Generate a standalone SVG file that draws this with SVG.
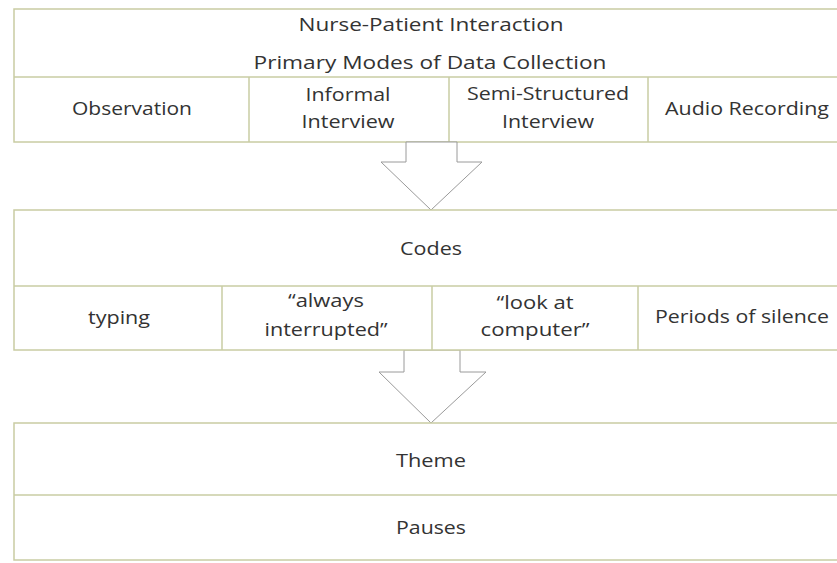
<svg xmlns="http://www.w3.org/2000/svg" width="837" height="563" viewBox="0 0 837 563">
<style>
.box{fill:#ffffff;stroke:#c9cca3;stroke-width:1.5}
.ln{stroke:#c9cca3;stroke-width:1.5}
.arr{fill:#ffffff;stroke:#9a9a9a;stroke-width:1}
text{font-family:"Open Sans","Liberation Sans",sans-serif;font-size:18px;fill:#333333;text-anchor:middle}
</style>
<rect width="837" height="563" fill="#ffffff"/>
<g id="modes">
<rect class="box" x="14" y="9" width="840" height="133"/>
<line class="ln" x1="14" y1="77" x2="854" y2="77"/>
<line class="ln" x1="249" y1="77" x2="249" y2="142"/>
<line class="ln" x1="449" y1="77" x2="449" y2="142"/>
<line class="ln" x1="648" y1="77" x2="648" y2="142"/>
<text x="431" y="31" textLength="265" lengthAdjust="spacingAndGlyphs">Nurse-Patient Interaction</text>
<text x="430" y="69" textLength="353" lengthAdjust="spacingAndGlyphs">Primary Modes of Data Collection</text>
<text x="132" y="115" textLength="120" lengthAdjust="spacingAndGlyphs">Observation</text>
<text x="348" y="101" textLength="85" lengthAdjust="spacingAndGlyphs">Informal</text>
<text x="348" y="128" textLength="93" lengthAdjust="spacingAndGlyphs">Interview</text>
<text x="548" y="100" textLength="162" lengthAdjust="spacingAndGlyphs">Semi-Structured</text>
<text x="548" y="128" textLength="92" lengthAdjust="spacingAndGlyphs">Interview</text>
<text x="747" y="115" textLength="164" lengthAdjust="spacingAndGlyphs">Audio Recording</text>
</g>
<g id="connectors">
<polygon class="arr" points="406,142 457,142 457,162 482,162 431,210 381,162 406,162"/>
<polygon class="arr" points="404,350 460,350 460,372 486,372 431,423 379,372 404,372"/>
</g>
<g id="codes">
<rect class="box" x="14" y="210" width="840" height="140"/>
<line class="ln" x1="14" y1="286" x2="854" y2="286"/>
<line class="ln" x1="222" y1="286" x2="222" y2="350"/>
<line class="ln" x1="432" y1="286" x2="432" y2="350"/>
<line class="ln" x1="638" y1="286" x2="638" y2="350"/>
<text x="431" y="255" textLength="62" lengthAdjust="spacingAndGlyphs">Codes</text>
<text x="119" y="324" textLength="62" lengthAdjust="spacingAndGlyphs">typing</text>
<text x="326" y="307" textLength="76" lengthAdjust="spacingAndGlyphs">“always</text>
<text x="326" y="336" textLength="123" lengthAdjust="spacingAndGlyphs">interrupted”</text>
<text x="535" y="309" textLength="77" lengthAdjust="spacingAndGlyphs">“look at</text>
<text x="535" y="336" textLength="109" lengthAdjust="spacingAndGlyphs">computer”</text>
<text x="742" y="323" textLength="174" lengthAdjust="spacingAndGlyphs">Periods of silence</text>
</g>
<g id="theme">
<rect class="box" x="14" y="423" width="840" height="137"/>
<line class="ln" x1="14" y1="495" x2="854" y2="495"/>
<text x="431" y="467" textLength="70" lengthAdjust="spacingAndGlyphs">Theme</text>
<text x="431" y="534" textLength="70" lengthAdjust="spacingAndGlyphs">Pauses</text>
</g>
</svg>
